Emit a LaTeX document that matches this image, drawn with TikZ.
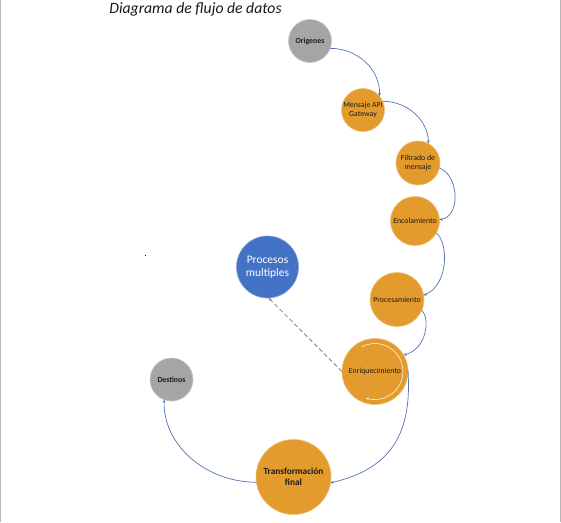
\documentclass[tikz,border=0pt]{standalone}
\usepackage{fontspec}
\setmainfont{Carlito}
\usetikzlibrary{arrows.meta}
\definecolor{orng}{HTML}{E49B2E}
\definecolor{gry}{HTML}{A5A5A5}
\definecolor{blu}{HTML}{4472C4}
\definecolor{lnk}{HTML}{5274B4}
\definecolor{dsh}{HTML}{7488AA}
\definecolor{txt}{HTML}{1A1A1A}
\tikzset{
  bubble/.style={circle, inner sep=0pt, outer sep=0pt, draw=#1!65!white, line width=0.6pt, fill=#1, text=txt, align=center},
  small/.style={font=\fontsize{7.8}{9.5}\selectfont},
  smallbf/.style={font=\bfseries\fontsize{7.8}{9.5}\selectfont},
  flow/.style={draw=lnk, line width=0.7pt, -{Stealth[length=3.2pt,width=2.8pt]}},
  dflow/.style={draw=dsh, line width=0.8pt, dash pattern=on 4.5pt off 2.5pt, -{Stealth[length=3.5pt,width=3pt]}},
  edgeline/.style={draw=gry!80!white, line width=1.3pt}
}
\begin{document}
\begin{tikzpicture}[x=1pt,y=-1pt]
\useasboundingbox (0,0) rectangle (561,522);
\fill[white] (0,0) rectangle (561,522);
\coordinate (tl) at (0.6,0); \coordinate (bl) at (0.6,522);
\coordinate (tr) at (560.4,0); \coordinate (br) at (560.4,522);
\draw[edgeline] (tl) -- (bl);
\draw[edgeline] (tr) -- (br);
\node[anchor=base, font=\itshape\fontsize{15.7}{19}\selectfont, text=txt] (title) at (195.5,13.5) {Diagrama de flujo de datos};
\node[fill=black, inner sep=0pt, minimum size=1.6pt] (dot) at (145.5,255.5) {};

\node[bubble=gry, smallbf, minimum size=43pt] (o) at (310,41) {Origenes};
\node[bubble=orng, small, minimum size=43pt] (m) at (363,110) {Mensaje API\\Gateway};
\node[bubble=orng, small, minimum size=44pt] (f) at (418,163) {Filtrado de\\mensaje};
\node[bubble=orng, small, minimum size=49pt] (e) at (415,221) {Encolamiento};
\node[bubble=orng, small, minimum size=54pt] (p) at (397,299.5) {Procesamiento};
\node[bubble=orng, small, minimum size=66pt] (n) at (375,371.5) {Enriquecimiento};
\node[bubble=blu, text=white, font=\fontsize{11.5}{13.5}\selectfont, minimum size=62pt] (pm) at (267.5,267) {Procesos\\multiples};
\node[bubble=orng, font=\bfseries\fontsize{9.3}{11.5}\selectfont, minimum size=75pt] (t) at (293.5,477) {Transformación\\final};
\node[bubble=gry, smallbf, minimum size=43pt] (d) at (171.5,379.5) {Destinos};

% inner white arc in Enriquecimiento
\draw[white, line width=0.5pt, -{Stealth[length=2.5pt,width=2.2pt]}] (n.center) ++(118:28pt) arc[start angle=118, end angle=-108, radius=28pt];

\draw[flow] (o.-20) .. controls +(28,0) and +(1,-26) .. (m.40);
\draw[flow] (m.24) .. controls +(26,0) and +(0,-22) .. (f.62);
\draw[flow] (f.-13) .. controls +(19,7) and +(22,-4) .. (e.3);
\draw[flow] (e.-29) .. controls +(13,12) and +(24,-10) .. (p.9);
\draw[flow] (p.-24) .. controls +(9,8) and +(23,-6) .. (n.30);
\draw[flow] (n.3) .. controls +(4,60) and +(64,-15) .. (t.-9);
\draw[flow] (t.188) .. controls +(-50,0) and +(-1,46) .. (d.-110);
\draw[dflow] (n.180) -- (pm.-88);
\end{tikzpicture}
\end{document}
